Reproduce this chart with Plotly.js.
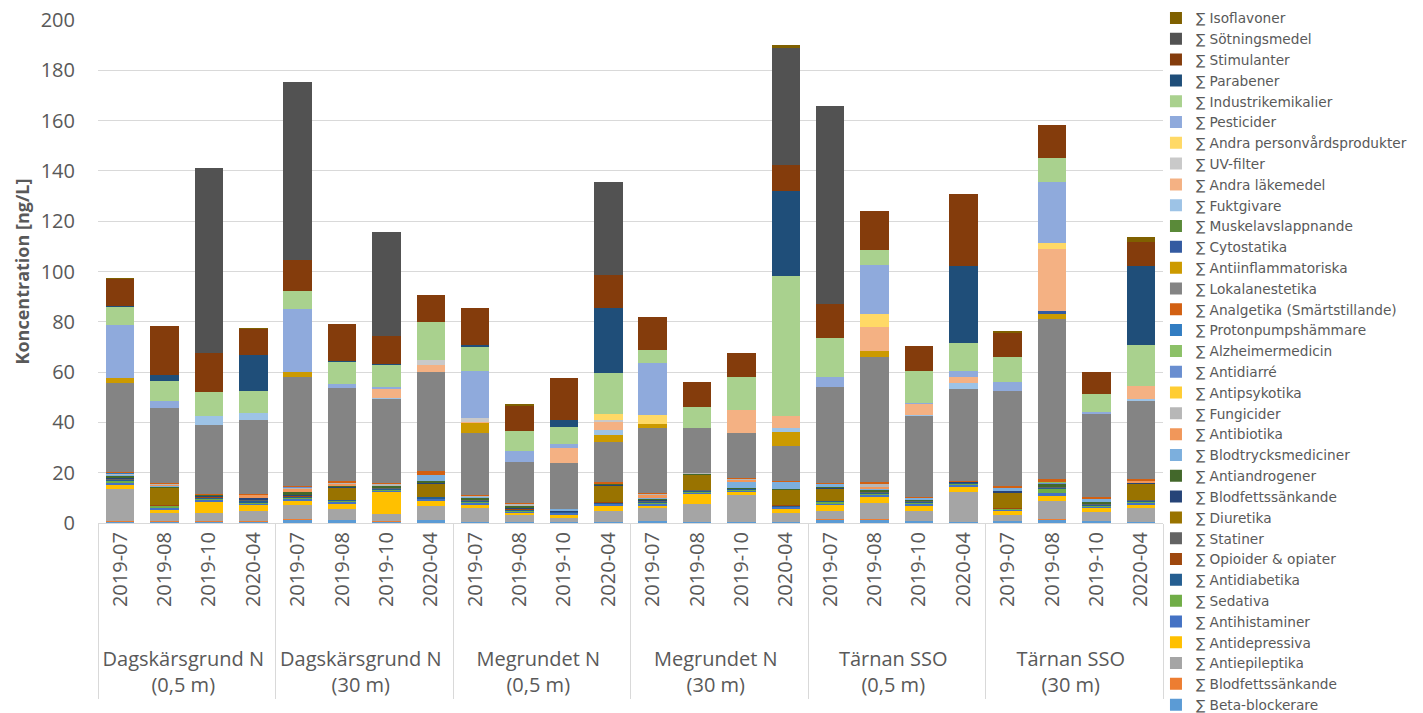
<!DOCTYPE html>
<html>
<head>
<meta charset="utf-8">
<script src="https://cdn.plot.ly/plotly-3.0.1.min.js"></script>
<style>
  html, body { margin: 0; padding: 0; background: #ffffff; }
  #chart { width: 1423px; height: 713px; }
</style>
</head>
<body>
<div id="chart"></div>
<script>
// ---- categories ----
const stations = ["Dagskärsgrund N<br>(0,5 m)", "Dagskärsgrund N<br>(30 m)", "Megrundet N<br>(0,5 m)", "Megrundet N<br>(30 m)", "Tärnan SSO<br>(0,5 m)", "Tärnan SSO<br>(30 m)"];
const dates = ["2019-07", "2019-08", "2019-10", "2020-04"];

// ---- series values (ng/L), one value per bar, bars in station/date order ----
const betaBlockerare      = [0.5,0.5,0.5,0.5, 1.2,1.2,0.5,1.2, 0.4,0.4,0.4,0.4, 0.7,0.4,0.4,0.4, 1.3,1.3,0.7,0.3, 0.8,1.3,0.6,0.4];
const blodfettssankandeA  = [0.1,0.1,0.1,0.1, 0.2,0.1,0.1,0.1, 0.1,0.1,0.1,0.1, 0.1,0.1,0.1,0.1, 0.1,0.1,0.1,0.1, 0.1,0.1,0.1,0.1];
const antiepileptika      = [13.1,3.3,3.3,4.3, 5.8,4.4,3.0,5.5, 5.5,2.6,1.5,4.2, 5.2,7.0,10.5,3.3, 3.3,6.6,4.0,12.0, 2.4,7.5,3.6,5.5];
const antidepressiva      = [1.3,1.3,4.6,2.3, 1.6,2.0,8.8,2.1, 1.3,0.8,1.3,2.0, 0.9,3.9,1.3,1.6, 2.4,2.2,2.0,2.1, 1.3,2.0,1.5,1.3];
const antihistaminer      = [1.1,0.6,0.8,0.5, 0.8,0.5,0.3,0.5, 0.5,0.4,0.5,0.8, 0.6,0.4,0.3,0.8, 0.6,0.8,0.6,0.7, 0.6,1.2,0.4,0.8];
const sedativa            = [0.7,0.8,0.2,0.2, 0.3,0.5,0.6,0.2, 0.6,0.6,0.2,0.2, 0.3,0.4,0.6,0.2, 0.6,0.6,0.5,0.2, 0.2,1.5,0.6,0.2];
const antidiabetika       = [0.3,0.3,0.6,0.8, 0.6,0.3,0.3,0.6, 0.3,0.4,0.4,0.4, 0.6,0.5,0.2,0.5, 0.3,0.3,0.5,0.5, 0.3,0.3,0.4,0.5];
const opioider            = [0.1,0.1,0.1,0.1, 0.1,0.1,0.1,0.1, 0.1,0.1,0.0,0.1, 0.1,0.1,0.1,0.1, 0.1,0.1,0.1,0.0, 0.1,0.1,0.1,0.1];
const statiner            = [0.2,0.2,0.2,0.2, 0.2,0.2,0.2,0.2, 0.2,0.2,0.1,0.2, 0.2,0.2,0.1,0.2, 0.2,0.2,0.2,0.1, 0.2,0.2,0.2,0.2];
const diuretika           = [0.2,6.6,0.0,0.0, 0.0,4.8,0.0,5.2, 0.0,0.0,0.0,6.3, 0.0,5.9,0.0,5.8, 4.8,0.0,0.0,0.0, 6.1,0.0,0.0,6.4];
const blodfettssankandeB  = [0.2,0.3,0.4,0.9, 0.3,0.2,0.2,0.3, 0.3,0.5,0.2,0.4, 0.3,0.2,0.0,0.2, 0.2,0.2,0.2,0.2, 0.6,0.2,0.2,0.3];
const antiandrogener      = [0.9,0.3,0.2,0.2, 1.2,0.4,0.6,0.6, 0.8,0.6,0.1,0.4, 0.5,0.2,0.2,0.4, 0.3,0.8,0.4,0.1, 0.2,1.2,0.8,0.3];
const blodtrycksmediciner = [0.3,0.2,0.0,0.0, 0.2,0.2,0.2,2.6, 0.3,0.2,0.7,0.2, 0.3,0.0,2.6,2.7, 1.2,0.2,0.6,0.0, 1.2,0.0,1.2,0.0];
const antibiotika         = [0.2,0.4,0.0,1.0, 1.0,0.5,0.0,0.0, 0.0,0.0,0.0,0.0, 1.2,0.0,0.6,0.0, 0.0,1.0,0.0,0.0, 0.0,0.0,0.0,0.8];
const fungicider          = [0.2,0.4,0.0,0.0, 0.6,0.7,0.5,0.0, 0.2,0.6,0.1,0.0, 0.4,0.5,0.3,0.0, 0.0,1.2,0.0,0.0, 0.0,0.0,0.0,0.0];
const antipsykotika       = [0.0,0.0,0.0,0.0, 0.0,0.0,0.0,0.0, 0.0,0.1,0.0,0.0, 0.0,0.0,0.0,0.0, 0.0,0.0,0.0,0.0, 0.0,0.0,0.0,0.0];
const antidiarre          = [0.1,0.0,0.0,0.0, 0.1,0.0,0.0,0.0, 0.0,0.0,0.0,0.0, 0.0,0.0,0.0,0.0, 0.0,0.1,0.0,0.0, 0.0,0.2,0.0,0.0];
const alzheimermedicin    = [0.1,0.0,0.0,0.0, 0.0,0.0,0.0,0.0, 0.0,0.0,0.0,0.0, 0.0,0.0,0.0,0.0, 0.0,0.0,0.0,0.0, 0.0,0.4,0.0,0.0];
const protonpumpshammare  = [0.2,0.0,0.0,0.0, 0.0,0.0,0.0,0.0, 0.0,0.0,0.0,0.0, 0.0,0.0,0.0,0.0, 0.0,0.0,0.0,0.0, 0.0,0.0,0.0,0.0];
const analgetika          = [0.6,0.6,0.5,0.5, 0.6,0.6,0.5,1.6, 0.5,0.3,0.1,0.7, 0.5,0.2,0.5,0.6, 0.5,0.5,0.6,0.6, 0.6,1.2,0.5,0.7];
const lokalanestetika     = [35.3,29.7,27.6,29.5, 43.3,37.1,33.4,39.1, 24.6,16.3,18.3,15.7, 25.9,17.7,17.9,13.8, 38.1,50.0,31.9,36.3, 37.9,63.6,33.1,31.1];
const antiinflammatoriska = [2.0,0.0,0.0,0.0, 2.0,0.0,0.0,0.0, 4.0,0.0,0.0,2.9, 1.7,0.0,0.0,5.6, 0.0,2.2,0.0,0.0, 0.0,2.3,0.0,0.0];
const cytostatika         = [0.0,0.0,0.0,0.0, 0.0,0.0,0.0,0.0, 0.0,0.0,0.0,0.0, 0.0,0.0,0.0,0.0, 0.0,0.0,0.0,0.0, 0.0,0.9,0.0,0.0];
const muskelavslappnande  = [0.1,0.0,0.0,0.0, 0.1,0.0,0.0,0.0, 0.0,0.0,0.0,0.0, 0.0,0.0,0.0,0.0, 0.0,0.0,0.0,0.0, 0.0,0.0,0.0,0.0];
const fuktgivare          = [0.0,0.0,3.3,2.6, 0.0,0.0,0.4,0.0, 0.0,0.0,0.0,2.0, 0.0,0.0,0.0,1.4, 0.0,0.0,0.4,2.6, 0.0,0.0,0.0,0.6];
const andraLakemedel      = [0.0,0.0,0.0,0.0, 0.0,0.0,3.7,2.9, 0.5,0.0,6.0,3.0, 0.0,0.0,9.4,4.7, 0.0,9.5,4.5,2.3, 0.0,24.9,0.0,5.3];
const uvFilter            = [0.0,0.0,0.0,0.0, 0.0,0.0,0.0,2.0, 1.4,0.0,0.0,1.1, 0.0,0.0,0.0,0.0, 0.0,0.0,0.0,0.0, 0.0,0.0,0.0,0.0];
const andraPersonvard     = [0.0,0.0,0.0,0.0, 0.0,0.0,0.0,0.0, 0.0,0.0,0.0,2.2, 3.6,0.0,0.0,0.0, 0.0,5.3,0.0,0.0, 0.0,2.3,0.0,0.0];
const pesticider          = [21.0,2.7,0.0,0.0, 24.8,1.5,0.5,0.0, 19.0,4.6,1.3,0.0, 20.4,0.0,0.0,0.0, 3.9,19.2,0.3,2.4, 3.3,24.3,0.9,0.0];
const industrikemikalier  = [6.9,8.2,9.6,8.9, 7.4,8.6,8.9,15.0, 9.5,7.6,6.9,16.3, 5.4,8.3,12.8,55.7, 15.7,6.0,13.0,11.0, 10.2,9.5,7.1,16.3];
const parabener           = [0.5,2.1,0.0,14.2, 0.0,0.6,0.3,0.0, 0.7,0.0,2.7,25.8, 0.0,0.0,0.0,34.0, 0.0,0.0,0.0,30.7, 0.0,0.0,0.0,31.4];
const stimulanter         = [10.7,19.7,15.5,10.3, 12.2,14.5,11.4,11.0, 14.6,10.3,16.9,13.3, 12.9,9.9,9.6,10.2, 13.5,15.6,9.6,28.5, 9.3,13.0,8.9,9.5];
const sotningsmedel       = [0.0,0.0,73.5,0.0, 70.7,0.0,41.3,0.0, 0.0,0.0,0.0,36.8, 0.0,0.0,0.0,46.4, 78.8,0.0,0.0,0.0, 0.0,0.0,0.0,0.0];
const isoflavoner         = [0.7,0.0,0.0,0.6, 0.0,0.0,0.0,0.0, 0.0,0.6,0.0,0.0, 0.0,0.0,0.0,1.4, 0.0,0.0,0.0,0.0, 0.8,0.0,0.0,2.0];

// ---- series list (stack order bottom -> top) ----
const seriesNames = [
  "∑ Beta-blockerare", "∑ Blodfettssänkande", "∑ Antiepileptika", "∑ Antidepressiva",
  "∑ Antihistaminer", "∑ Sedativa", "∑ Antidiabetika", "∑ Opioider & opiater",
  "∑ Statiner", "∑ Diuretika", "∑ Blodfettssänkande", "∑ Antiandrogener",
  "∑ Blodtrycksmediciner", "∑ Antibiotika", "∑ Fungicider", "∑ Antipsykotika",
  "∑ Antidiarré", "∑ Alzheimermedicin", "∑ Protonpumpshämmare", "∑ Analgetika (Smärtstillande)",
  "∑ Lokalanestetika", "∑ Antiinflammatoriska", "∑ Cytostatika", "∑ Muskelavslappnande",
  "∑ Fuktgivare", "∑ Andra läkemedel", "∑ UV-filter", "∑ Andra personvårdsprodukter",
  "∑ Pesticider", "∑ Industrikemikalier", "∑ Parabener", "∑ Stimulanter",
  "∑ Sötningsmedel", "∑ Isoflavoner"
];
const seriesValues = [
  betaBlockerare, blodfettssankandeA, antiepileptika, antidepressiva,
  antihistaminer, sedativa, antidiabetika, opioider,
  statiner, diuretika, blodfettssankandeB, antiandrogener,
  blodtrycksmediciner, antibiotika, fungicider, antipsykotika,
  antidiarre, alzheimermedicin, protonpumpshammare, analgetika,
  lokalanestetika, antiinflammatoriska, cytostatika, muskelavslappnande,
  fuktgivare, andraLakemedel, uvFilter, andraPersonvard,
  pesticider, industrikemikalier, parabener, stimulanter,
  sotningsmedel, isoflavoner
];
const seriesColors = [
  "#5B9BD5", "#ED7D31", "#A5A5A5", "#FFC000",
  "#4472C4", "#70AD47", "#255E91", "#9E480E",
  "#636363", "#997300", "#264478", "#43682B",
  "#7CAFDD", "#F1975A", "#B7B7B7", "#FFCD33",
  "#698ED0", "#8CC168", "#327DC2", "#D26012",
  "#848484", "#CC9A00", "#335AA1", "#5A8A39",
  "#9DC3E6", "#F4B183", "#C9C9C9", "#FFD966",
  "#8FAADC", "#A9D18E", "#1F4E79", "#843C0C",
  "#525252", "#7F6000"
];

// ---- x categories (multicategory: station / date) ----
// leading no-break spaces give the rotated date labels the same cell depth as the reference
const datePad = "\u00A0\u00A0\u00A0\u00A0";
const xStation = [], xDate = [];
stations.forEach(s => dates.forEach(d => { xStation.push(s); xDate.push(datePad + d); }));

const traces = seriesNames.map((name, i) => ({
  type: "bar",
  name: name,
  x: [xStation, xDate],
  y: seriesValues[i],
  marker: { color: seriesColors[i], line: { width: 0 } },
  hoverinfo: "name+y"
}));

const txt = "#595959";
const layout = {
  width: 1423, height: 713,
  paper_bgcolor: "#ffffff", plot_bgcolor: "#ffffff",
  font: { family: "Open Sans, sans-serif", color: txt, size: 20 },
  barmode: "stack",
  bargap: 0.36,
  margin: { l: 98, r: 260, t: 19.5, b: 189.5, pad: 0, autoexpand: false },
  showlegend: true,
  legend: {
    traceorder: "reversed",
    x: 0.9934, xanchor: "left",
    y: 1.0347, yanchor: "top",
    maxheight: 760,
    font: { family: "DejaVu Sans, sans-serif", size: 13.7, color: txt },
    bgcolor: "rgba(0,0,0,0)",
    borderwidth: 0
  },
  xaxis: {
    type: "multicategory",
    tickangle: -90,
    tickfont: { family: "Open Sans, sans-serif", size: 20, color: txt },
    showline: true, linecolor: "#D9D9D9", linewidth: 1,
    showdividers: true, dividercolor: "#D9D9D9", dividerwidth: 1,
    ticks: "", showgrid: false,
    automargin: false
  },
  yaxis: {
    range: [0, 200], dtick: 20,
    showgrid: true, gridcolor: "#D9D9D9", gridwidth: 1,
    zeroline: false, showline: false, ticks: "",
    tickfont: { family: "Open Sans, sans-serif", size: 20, color: txt },
    ticklabelstandoff: 22,
    automargin: false,
    title: { text: "Koncentration [ng/L]", standoff: 6,
             font: { family: "Open Sans, sans-serif", size: 18, color: txt, weight: "bold" } }
  }
};

Plotly.newPlot("chart", traces, layout, { displayModeBar: false, staticPlot: true });
</script>
</body>
</html>
